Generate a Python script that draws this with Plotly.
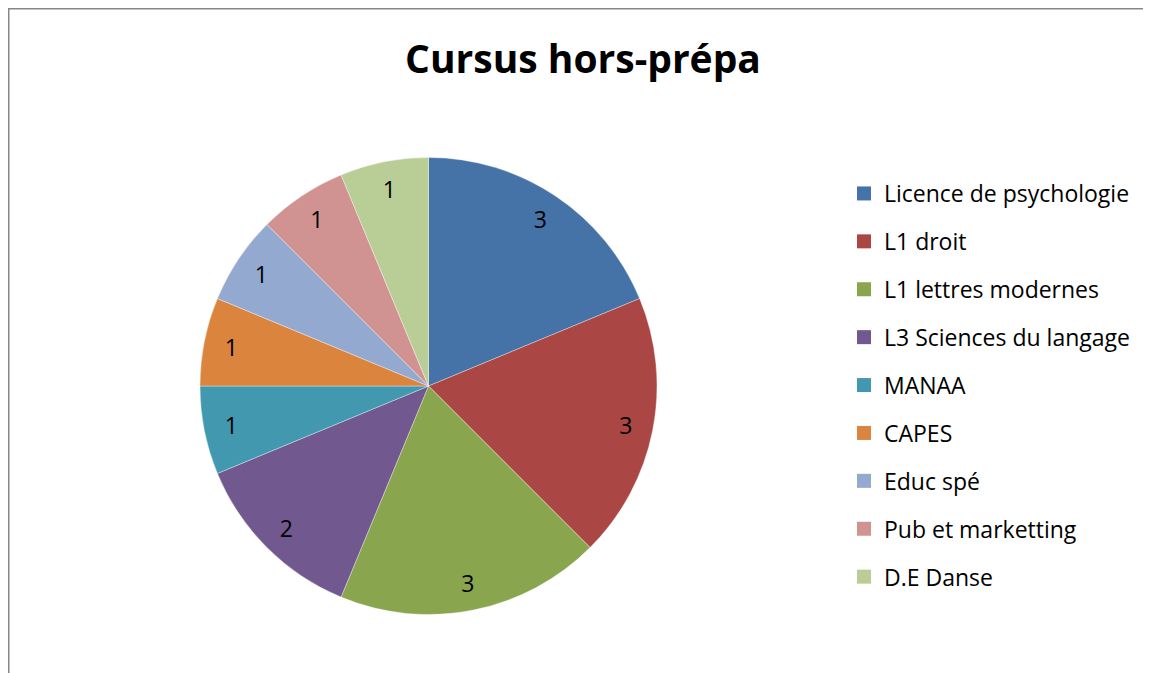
import plotly.graph_objects as go

labels = ["Licence de psychologie", "L1 droit", "L1 lettres modernes",
          "L3 Sciences du langage", "MANAA", "CAPES", "Educ spé",
          "Pub et marketting", "D.E Danse"]
values = [3, 3, 3, 2, 1, 1, 1, 1, 1]
colors = ["#4572A7", "#AA4643", "#89A54E", "#71588F", "#4198AF",
          "#DB843D", "#93A9CF", "#D19392", "#B9CD96"]
title_text = "Cursus hors-prépa"

W, H = 1151, 673
OFF = 8  # page body margin
FONT = "Open Sans, Carlito, Calibri, sans-serif"

pie_dom = dict(x=[(200 - OFF) / W, (657 - OFF) / W],
               y=[1 - (615 - OFF) / H, 1 - (157 - OFF) / H])

fig = go.Figure()
# filled pie, no text
fig.add_trace(go.Pie(
    labels=labels, values=values, sort=False, direction="clockwise",
    rotation=0,
    marker=dict(colors=colors, line=dict(color="rgba(255,255,255,0.6)", width=0.6)),
    textinfo="none", domain=pie_dom, showlegend=False, hoverinfo="label+value",
))
# transparent ring carrying the value labels near the rim
fig.add_trace(go.Pie(
    labels=labels, values=values, sort=False, direction="clockwise",
    rotation=0, hole=0.76,
    marker=dict(colors=["rgba(0,0,0,0)"] * len(values), line=dict(width=0)),
    textinfo="value", textposition="inside", insidetextorientation="horizontal",
    textfont=dict(family=FONT, size=23, color="black"),
    domain=pie_dom, showlegend=False, hoverinfo="skip",
))

# Legend entries (one group each for spacing)
for i, (lab, col) in enumerate(zip(labels, colors)):
    fig.add_trace(go.Scatter(
        x=[None], y=[None], mode="markers", name=lab,
        marker=dict(symbol="square", size=14, color=col),
        legendgroup=f"g{i}", showlegend=True,
    ))

fig.update_layout(
    width=W, height=H,
    margin=dict(l=0, r=0, t=0, b=0),
    paper_bgcolor="white", plot_bgcolor="white",
    xaxis=dict(visible=False), yaxis=dict(visible=False),
    title=dict(text=f"<b>{title_text}</b>", x=(583 - OFF) / W, xanchor="center",
               y=1 - (59 - OFF) / H, yanchor="middle",
               font=dict(family=FONT, size=39, color="black")),
    legend=dict(x=(844 - OFF) / W, xanchor="left", y=1 - (172 - OFF) / H, yanchor="top",
                font=dict(family=FONT, size=23, color="black"),
                tracegroupgap=15, bgcolor="rgba(0,0,0,0)",
                itemclick=False, itemdoubleclick=False),
    shapes=[dict(type="rect", xref="paper", yref="paper",
                 x0=0.5 / W, x1=1.02, y0=-0.02, y1=1 - (8.5 - OFF) / H,
                 line=dict(color="#878787", width=2))],
)

fig.write_html("out.html")
